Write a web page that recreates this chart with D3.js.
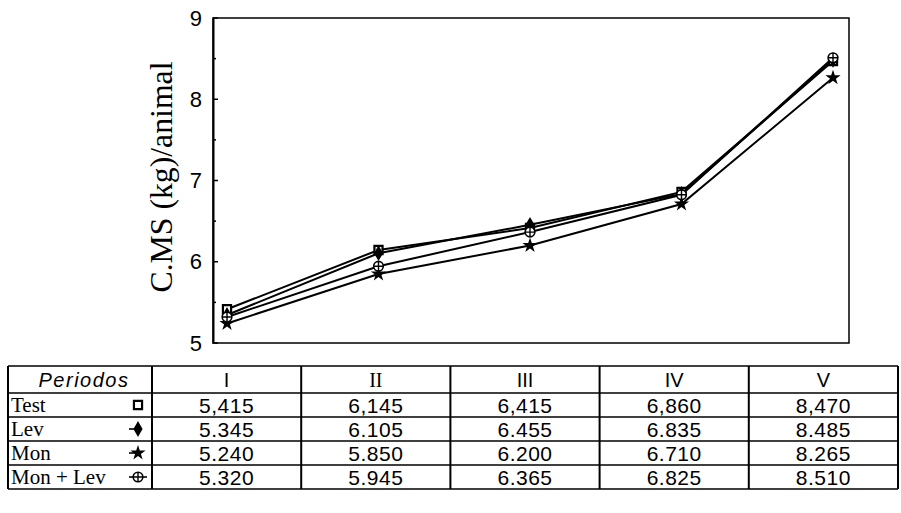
<!DOCTYPE html>
<html>
<head>
<meta charset="utf-8">
<script src="https://cdn.jsdelivr.net/npm/d3@7"></script>
<style>
  body { margin: 0; background: #fff; }
  svg { display: block; }
</style>
</head>
<body>
<div id="chart"></div>
<script>
const periods = ["I", "II", "III", "IV", "V"];
const seriesNames = ["Test", "Lev", "Mon", "Mon + Lev"];
const test = [5.415, 6.145, 6.415, 6.860, 8.470];
const lev = [5.345, 6.105, 6.455, 6.835, 8.485];
const mon = [5.240, 5.850, 6.200, 6.710, 8.265];
const monLev = [5.320, 5.945, 6.365, 6.825, 8.510];
const yTicks = [5, 6, 7, 8, 9];

const series = [
  { name: seriesNames[0], values: test, marker: "square" },
  { name: seriesNames[1], values: lev, marker: "diamond" },
  { name: seriesNames[2], values: mon, marker: "star" },
  { name: seriesNames[3], values: monLev, marker: "circleplus" }
];

const W = 901, H = 513;
const plot = { left: 213, right: 849, top: 18, bottom: 343 };
const table = { left: 8, labelRight: 152, right: 898, top: 366, headerH: 27, rowH: 24 };

const svg = d3.select("#chart").append("svg")
  .attr("width", W)
  .attr("height", H);

// scales
const x = d3.scalePoint().domain(periods).range([227, 833]);
const y = d3.scaleLinear().domain([5, 9]).range([plot.bottom, plot.top]);

// frame
svg.append("rect")
  .attr("x", plot.left)
  .attr("y", plot.top)
  .attr("width", plot.right - plot.left)
  .attr("height", plot.bottom - plot.top)
  .attr("fill", "none")
  .attr("stroke", "#000")
  .attr("stroke-width", 1.5);

// y axis
const yAxis = d3.axisLeft(y).tickValues(yTicks).tickSize(0).tickPadding(11)
  .tickFormat(d3.format("d"));
const gy = svg.append("g")
  .attr("transform", `translate(${plot.left},0)`)
  .call(yAxis);
gy.select(".domain").attr("stroke-width", 2);
gy.selectAll("text")
  .attr("font-family", "Liberation Sans, Arial, sans-serif")
  .attr("font-size", 22)
  .attr("fill", "#000");

// small inward ticks, incl. the half steps
svg.append("g").selectAll("line")
  .data(d3.range(5, 9.01, 0.5))
  .join("line")
  .attr("x1", plot.left)
  .attr("x2", d => plot.left + (d % 1 === 0 ? 5 : 3))
  .attr("y1", d => y(d))
  .attr("y2", d => y(d))
  .attr("stroke", "#000")
  .attr("stroke-width", 1.5);

svg.append("text")
  .attr("transform", `translate(172,177) rotate(-90)`)
  .attr("text-anchor", "middle")
  .attr("font-family", "Liberation Serif, Times New Roman, serif")
  .attr("font-size", 32)
  .attr("textLength", 231)
  .attr("lengthAdjust", "spacingAndGlyphs")
  .text("C.MS (kg)/animal");

// lines
const line = d3.line()
  .x((d, i) => x(periods[i]))
  .y(d => y(d));

svg.append("g").selectAll("path")
  .data(series)
  .join("path")
  .attr("d", d => line(d.values))
  .attr("fill", "none")
  .attr("stroke", "#000")
  .attr("stroke-width", 2);

function drawMarker(g, type, size) {
  if (type === "square") {
    g.append("path")
      .attr("d", d3.symbol(d3.symbolSquare, size * 1.1)())
      .attr("fill", "#fff").attr("stroke", "#000").attr("stroke-width", 2.2);
  } else if (type === "diamond") {
    g.append("path")
      .attr("d", d3.symbol(d3.symbolDiamond, size * 1.2)())
      .attr("fill", "#000");
  } else if (type === "star") {
    g.append("path")
      .attr("d", d3.symbol(d3.symbolStar, size * 1.2)())
      .attr("fill", "#000");
  } else {
    const r = Math.sqrt(size / Math.PI) * 1.1;
    g.append("circle").attr("r", r)
      .attr("fill", "#fff").attr("stroke", "#000").attr("stroke-width", 1.6);
    g.append("path")
      .attr("d", `M${-r},0H${r}M0,${-r}V${r}`)
      .attr("stroke", "#000").attr("stroke-width", 1.4);
  }
}

// markers on the lines
series.forEach(s => {
  const g = svg.append("g");
  s.values.forEach((v, i) => {
    const m = g.append("g").attr("transform", `translate(${x(periods[i])},${y(v)})`);
    drawMarker(m, s.marker, 60);
  });
});

// table
const col = d3.scaleBand().domain(periods).range([table.labelRight, table.right]);
const rowY = d3.scaleBand().domain(seriesNames)
  .range([table.top + table.headerH, table.top + table.headerH + table.rowH * seriesNames.length]);
const tableBottom = rowY.range()[1];

const tg = svg.append("g");

// horizontal rules
tg.selectAll("line.h")
  .data([table.top, table.top + table.headerH].concat(seriesNames.map(n => rowY(n) + rowY.bandwidth())))
  .join("line")
  .attr("class", "h")
  .attr("x1", table.left).attr("x2", table.right)
  .attr("y1", d => d).attr("y2", d => d)
  .attr("stroke", "#000")
  .attr("stroke-width", (d, i) => i < 2 ? 1.6 : 1.3);

// vertical rules
tg.selectAll("line.v")
  .data([table.left, table.labelRight].concat(periods.map(p => col(p) + col.bandwidth())))
  .join("line")
  .attr("class", "v")
  .attr("x1", d => d).attr("x2", d => d)
  .attr("y1", table.top).attr("y2", tableBottom)
  .attr("stroke", "#000")
  .attr("stroke-width", 2);

// header
tg.append("text")
  .attr("x", (table.left + table.labelRight) / 2 + 4)
  .attr("y", table.top + table.headerH / 2 + 7)
  .attr("text-anchor", "middle")
  .attr("font-family", "Liberation Sans, Arial, sans-serif")
  .attr("font-style", "italic")
  .attr("font-size", 20)
  .attr("letter-spacing", 1.5)
  .text("Periodos");

tg.selectAll("text.per")
  .data(periods)
  .join("text")
  .attr("class", "per")
  .attr("x", d => col(d) + col.bandwidth() / 2)
  .attr("y", table.top + table.headerH / 2 + 7)
  .attr("text-anchor", "middle")
  .attr("font-family", d => d === "II" ? "Liberation Serif, serif" : "Liberation Sans, Arial, sans-serif")
  .attr("font-size", 20)
  .text(d => d);

// rows
const fmt = d3.format(".3f");
series.forEach(s => {
  const cy = rowY(s.name) + rowY.bandwidth() / 2;
  tg.append("text")
    .attr("x", table.left + 3)
    .attr("y", cy + 7)
    .attr("font-family", "Liberation Serif, Times New Roman, serif")
    .attr("font-size", 21)
    .text(s.name);

  // legend key
  const kx = table.labelRight - 14;
  if (s.marker !== "square") {
    tg.append("line")
      .attr("x1", kx - 9).attr("x2", s.marker === "circleplus" ? kx + 9 : kx)
      .attr("y1", cy).attr("y2", cy)
      .attr("stroke", "#000").attr("stroke-width", 1.6);
  }
  drawMarker(tg.append("g").attr("transform", `translate(${kx},${cy})`), s.marker, 60);

  tg.selectAll(null)
    .data(s.values)
    .join("text")
    .attr("x", (d, i) => col(periods[i]) + col.bandwidth() / 2)
    .attr("y", cy + 8)
    .attr("text-anchor", "middle")
    .attr("font-family", "Liberation Sans, Arial, sans-serif")
    .attr("font-size", 21)
    .attr("letter-spacing", 0.5)
    .text(d => fmt(d).replace(".", s.name === "Test" ? "," : "."));
});
</script>
</body>
</html>
